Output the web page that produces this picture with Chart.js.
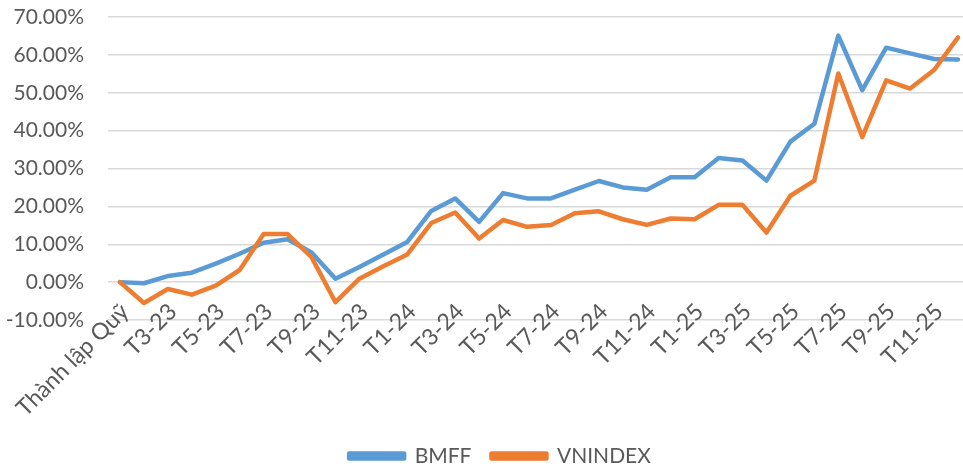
<!DOCTYPE html>
<html>
<head>
<meta charset="utf-8">
<script src="https://cdn.jsdelivr.net/npm/chart.js@4.4.1/dist/chart.umd.min.js"></script>
<style>
  html, body { margin: 0; padding: 0; background: #fff; overflow: hidden; }
</style>
</head>
<body>
<canvas id="perfChart" width="1001" height="469"></canvas>
<script>
// ===== DATA =====
const months = ['Thành lập Quỹ',
  'T2-23', 'T3-23', 'T4-23', 'T5-23', 'T6-23', 'T7-23', 'T8-23', 'T9-23', 'T10-23', 'T11-23', 'T12-23',
  'T1-24', 'T2-24', 'T3-24', 'T4-24', 'T5-24', 'T6-24', 'T7-24', 'T8-24', 'T9-24', 'T10-24', 'T11-24', 'T12-24',
  'T1-25', 'T2-25', 'T3-25', 'T4-25', 'T5-25', 'T6-25', 'T7-25', 'T8-25', 'T9-25', 'T10-25', 'T11-25', 'T12-25'];

const bmff = [0, -0.3, 1.6, 2.5, 4.9, 7.5, 10.4, 11.3, 7.8, 0.9, 4.0, 7.3,
  10.6, 18.8, 22.1, 15.9, 23.5, 22.1, 22.1, 24.4, 26.7, 25.0, 24.4, 27.7,
  27.7, 32.8, 32.1, 26.8, 37.1, 41.8, 65.1, 50.7, 61.9, 60.4, 58.9, 58.8];

const vnindex = [0, -5.5, -1.8, -3.3, -0.9, 3.2, 12.7, 12.7, 6.6, -5.3, 0.9, 4.2,
  7.3, 15.6, 18.4, 11.5, 16.4, 14.6, 15.1, 18.2, 18.7, 16.6, 15.1, 16.8,
  16.6, 20.4, 20.4, 13.1, 22.8, 26.8, 55.1, 38.3, 53.3, 51.1, 56.0, 64.6];

const yMin = -10;
const yMax = 70;
const yStep = 10;

// ===== CHART =====
const textColor = '#595959';
const fontFamily = 'Lato, "Open Sans", sans-serif';

// labels stick out of their scale box a bit, so turn off the label clipping
const noLabelClip = (scale) => { scale._computeLabelArea = () => undefined; };

const ctx = document.getElementById('perfChart');
const perfChart = new Chart(ctx, {
  type: 'line',
  data: {
    labels: months,
    datasets: [
      {
        label: 'BMFF',
        data: bmff,
        borderColor: '#5B9BD5',
        backgroundColor: '#5B9BD5',
        borderWidth: 4.5,
        pointRadius: 0,
        tension: 0,
        borderCapStyle: 'round',
        borderJoinStyle: 'round',
        order: 1
      },
      {
        label: 'VNINDEX',
        data: vnindex,
        borderColor: '#ED7D31',
        backgroundColor: '#ED7D31',
        borderWidth: 4.5,
        pointRadius: 0,
        tension: 0,
        borderCapStyle: 'round',
        borderJoinStyle: 'round',
        order: 0
      }
    ]
  },
  options: {
    responsive: false,
    animation: false,
    layout: { padding: { top: 17, right: 31, bottom: -7.5, left: 30 } },
    plugins: {
      tooltip: { enabled: false },
      legend: {
        position: 'bottom',
        labels: {
          color: textColor,
          font: { family: fontFamily, size: 21 },
          boxWidth: 55,
          boxHeight: 5,
          padding: 20,
          sort: (a, b) => a.datasetIndex - b.datasetIndex
        }
      }
    },
    scales: {
      x: {
        offset: true,
        grid: { display: false, drawTicks: false },
        border: { display: false },
        ticks: {
          color: textColor,
          font: { family: fontFamily, size: 23 },
          autoSkip: false,
          maxRotation: 45,
          minRotation: 45,
          padding: -22,
          labelOffset: 5,
          callback: function(val, i) {
            return i % 2 === 0 ? this.getLabelForValue(val) : '';
          }
        },
        afterFit: (scale) => {
          scale.height = 105.5;
          noLabelClip(scale);
        }
      },
      y: {
        min: yMin,
        max: yMax,
        grid: { color: '#D9D9D9', lineWidth: 1.5, drawTicks: false },
        border: { display: false },
        ticks: {
          stepSize: yStep,
          color: textColor,
          font: { family: fontFamily, size: 21 },
          padding: 24,
          callback: (v) => v.toFixed(2) + '%'
        },
        afterFit: (scale) => {
          scale.width = 78;
          scale.paddingTop = 0;
          scale.paddingBottom = 0;
          noLabelClip(scale);
        }
      }
    }
  }
});
</script>
</body>
</html>
